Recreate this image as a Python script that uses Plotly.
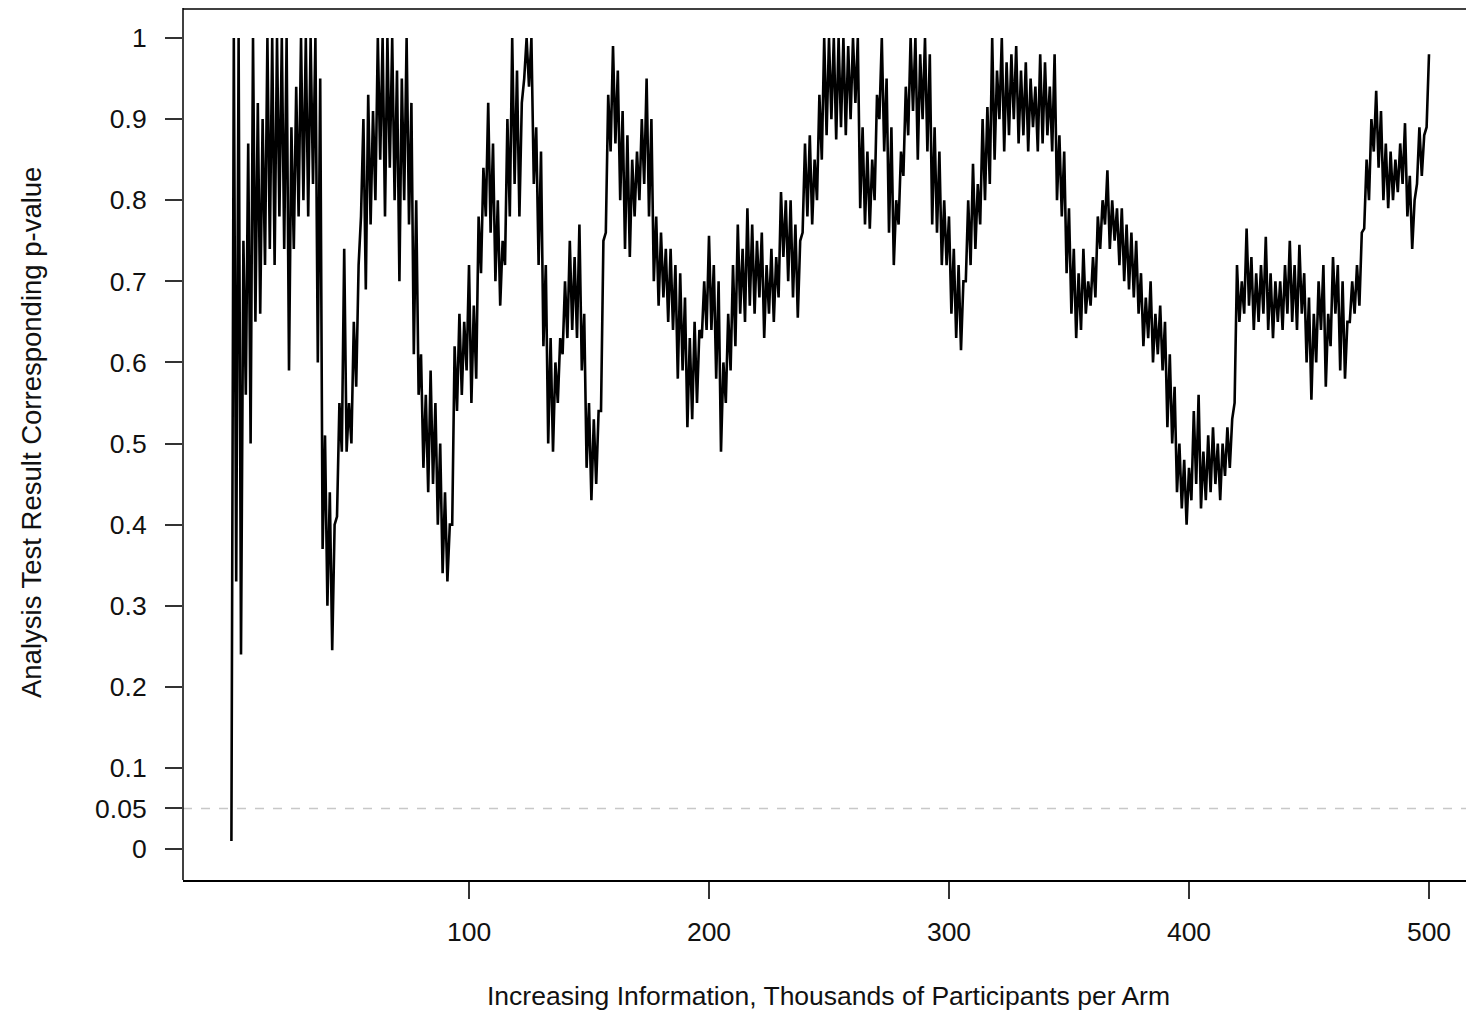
import plotly.graph_objects as go

# Envelope: for each pair of consecutive analyses
# (x = 1,2 ; 3,4 ; ...) the lower and the upper p-value of the zigzag.
p_low = [
    0.01, 0.33, 0.24, 0.56, 0.50, 0.65, 0.66, 0.72, 0.74, 0.72,
    0.78, 0.74, 0.59, 0.74, 0.78, 0.80, 0.78, 0.82, 0.60, 0.37,
    0.30, 0.245, 0.41, 0.49, 0.49, 0.50, 0.57, 0.78, 0.69, 0.77,
    0.80, 0.85, 0.78, 0.84, 0.80, 0.70, 0.80, 0.77, 0.61, 0.56,
    0.47, 0.44, 0.45, 0.40, 0.34, 0.33, 0.40, 0.54, 0.56, 0.59,
    0.55, 0.58, 0.71, 0.78, 0.76, 0.70, 0.67, 0.72, 0.78, 0.82,
    0.78, 0.95, 0.94, 0.82, 0.72, 0.62, 0.50, 0.49, 0.55, 0.61,
    0.63, 0.64, 0.63, 0.59, 0.47, 0.43, 0.45, 0.54, 0.76, 0.86,
    0.87, 0.80, 0.74, 0.73, 0.78, 0.80, 0.82, 0.78, 0.70, 0.67,
    0.68, 0.65, 0.64, 0.58, 0.59, 0.52, 0.53, 0.55, 0.63, 0.64,
    0.64, 0.58, 0.49, 0.55, 0.59, 0.62, 0.66, 0.65, 0.67, 0.66,
    0.68, 0.63, 0.66, 0.65, 0.68, 0.73, 0.70, 0.68, 0.655, 0.76,
    0.78, 0.77, 0.80, 0.85, 0.88, 0.90, 0.875, 0.89, 0.88, 0.90,
    0.92, 0.79, 0.77, 0.765, 0.80, 0.90, 0.86, 0.76, 0.72, 0.77,
    0.83, 0.88, 0.91, 0.85, 0.90, 0.86, 0.77, 0.76, 0.72, 0.72,
    0.66, 0.63, 0.615, 0.70, 0.72, 0.74, 0.77, 0.80, 0.82, 0.85,
    0.90, 0.86, 0.88, 0.90, 0.87, 0.88, 0.86, 0.89, 0.86, 0.87,
    0.88, 0.86, 0.80, 0.78, 0.71, 0.66, 0.63, 0.64, 0.66, 0.67,
    0.68, 0.74, 0.77, 0.74, 0.75, 0.72, 0.70, 0.69, 0.68, 0.66,
    0.62, 0.63, 0.60, 0.61, 0.59, 0.52, 0.50, 0.44, 0.42, 0.40,
    0.43, 0.45, 0.42, 0.43, 0.44, 0.45, 0.43, 0.46, 0.47, 0.55,
    0.65, 0.66, 0.67, 0.64, 0.65, 0.66, 0.64, 0.63, 0.65, 0.64,
    0.66, 0.65, 0.64, 0.66, 0.60, 0.554, 0.60, 0.64, 0.57, 0.62,
    0.66, 0.59, 0.58, 0.65, 0.66, 0.67, 0.765, 0.80, 0.86, 0.84,
    0.80, 0.79, 0.80, 0.81, 0.82, 0.78, 0.74, 0.82, 0.83, 0.89,
]
p_high = [
    1.0, 1.0, 0.75, 0.87, 1.0, 0.92, 0.90, 1.0, 1.0, 1.0,
    1.0, 1.0, 0.89, 0.94, 1.0, 1.0, 1.0, 1.0, 0.95, 0.51,
    0.44, 0.40, 0.55, 0.74, 0.55, 0.65, 0.72, 0.90, 0.93, 0.91,
    1.0, 1.0, 1.0, 1.0, 0.96, 0.95, 1.0, 0.92, 0.80, 0.61,
    0.56, 0.59, 0.55, 0.50, 0.44, 0.40, 0.62, 0.66, 0.65, 0.72,
    0.67, 0.78, 0.84, 0.92, 0.87, 0.80, 0.75, 0.90, 1.0, 0.96,
    0.92, 1.0, 1.0, 0.89, 0.86, 0.72, 0.63, 0.60, 0.63, 0.70,
    0.75, 0.73, 0.77, 0.66, 0.55, 0.53, 0.54, 0.75, 0.93, 0.99,
    0.96, 0.91, 0.88, 0.85, 0.86, 0.90, 0.95, 0.90, 0.78, 0.76,
    0.74, 0.74, 0.72, 0.71, 0.68, 0.63, 0.65, 0.64, 0.70, 0.756,
    0.72, 0.70, 0.60, 0.66, 0.72, 0.77, 0.74, 0.79, 0.77, 0.75,
    0.76, 0.72, 0.74, 0.73, 0.81, 0.80, 0.80, 0.77, 0.75, 0.87,
    0.88, 0.85, 0.93, 1.0, 1.0, 1.0, 1.0, 1.0, 0.99, 1.0,
    1.0, 0.89, 0.86, 0.85, 0.93, 1.0, 0.95, 0.89, 0.80, 0.86,
    0.94, 1.0, 1.0, 0.98, 1.0, 0.98, 0.89, 0.86, 0.80, 0.78,
    0.74, 0.72, 0.70, 0.80, 0.845, 0.82, 0.90, 0.915, 1.0, 0.96,
    1.0, 0.97, 0.98, 0.99, 0.96, 0.97, 0.95, 0.94, 0.98, 0.97,
    0.94, 0.98, 0.88, 0.86, 0.79, 0.74, 0.71, 0.74, 0.70, 0.73,
    0.78, 0.80, 0.837, 0.80, 0.79, 0.79, 0.77, 0.76, 0.75, 0.71,
    0.68, 0.70, 0.66, 0.67, 0.65, 0.61, 0.57, 0.50, 0.48, 0.47,
    0.54, 0.56, 0.49, 0.51, 0.52, 0.50, 0.50, 0.52, 0.53, 0.72,
    0.70, 0.765, 0.73, 0.71, 0.72, 0.755, 0.71, 0.70, 0.70, 0.72,
    0.75, 0.72, 0.745, 0.71, 0.68, 0.66, 0.70, 0.72, 0.66, 0.73,
    0.72, 0.70, 0.65, 0.70, 0.72, 0.76, 0.85, 0.90, 0.935, 0.91,
    0.87, 0.86, 0.85, 0.87, 0.895, 0.83, 0.80, 0.89, 0.88, 0.98,
]

x_ticks = [100, 200, 300, 400, 500]
y_ticks = [0, 0.05, 0.1, 0.2, 0.3, 0.4, 0.5, 0.6, 0.7, 0.8, 0.9, 1]
y_tick_labels = ["0", "0.05", "0.1", "0.2", "0.3", "0.4", "0.5", "0.6",
                 "0.7", "0.8", "0.9", "1"]
alpha_level = 0.05

# interleave the read envelope into the analysis sequence (1..500 thousand)
p_values = []
for lo, hi in zip(p_low, p_high):
    p_values.extend([lo, hi])
n_thousands = list(range(1, len(p_values) + 1))

FONT = "Liberation Sans, Arial, sans-serif"
TXT = "#111111"

fig = go.Figure()
fig.add_trace(go.Scatter(
    x=n_thousands, y=p_values, mode="lines",
    line=dict(color="black", width=2.6),
    hoverinfo="skip", showlegend=False,
))

# reference line at the 0.05 significance level
fig.add_shape(type="line", xref="paper", x0=0, x1=1, yref="y",
              y0=alpha_level, y1=alpha_level,
              line=dict(color="#c8c8c8", width=1.5, dash="dash"), layer="below")
# box: top and left border (bottom is the x axis line)
TOP = 1.0 - 1.0 / 872
fig.add_shape(type="line", xref="paper", yref="paper", x0=0, x1=1, y0=TOP, y1=TOP,
              line=dict(color="black", width=1.5))
fig.add_shape(type="line", xref="paper", yref="paper", x0=0, x1=0, y0=0, y1=1,
              line=dict(color="black", width=1.5))

fig.update_layout(
    width=1466, height=1004,
    margin=dict(l=175, r=0, t=0, b=132),
    paper_bgcolor="white", plot_bgcolor="white",
    font=dict(family=FONT, size=26.5, color=TXT),
    xaxis=dict(
        range=[-19.17, 518.75], tickvals=x_ticks,
        ticktext=[str(v) for v in x_ticks],
        showgrid=False, zeroline=False,
        showline=True, linecolor="black", linewidth=1.5,
        ticks="outside", ticklen=17, tickwidth=1.5, tickcolor="#333333",
        ticklabelstandoff=10,
    ),
    yaxis=dict(
        range=[-0.0382, 1.0370], tickvals=y_ticks, ticktext=y_tick_labels,
        showgrid=False, zeroline=False, showline=False,
        ticks="outside", ticklen=17, tickwidth=1.5, tickcolor="#333333",
        ticklabelstandoff=13,
    ),
    annotations=[
        dict(text="Increasing Information, Thousands of Participants per Arm",
             xref="paper", yref="paper", x=0.5, y=0, yshift=-116,
             xanchor="center", yanchor="middle", showarrow=False,
             font=dict(family=FONT, size=26.5, color=TXT)),
        dict(text="Analysis Test Result Corresponding p-value",
             xref="paper", yref="paper", x=0, y=0.5126, xshift=-152,
             xanchor="center", yanchor="middle", showarrow=False, textangle=-90,
             font=dict(family=FONT, size=27.5, color=TXT)),
    ],
)

fig.write_html("out.html")
